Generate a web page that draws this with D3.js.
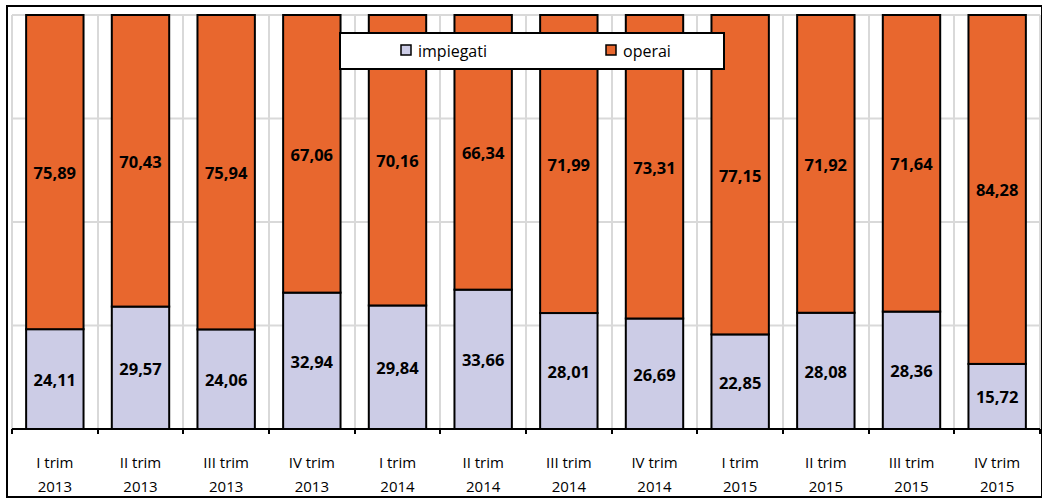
<!DOCTYPE html>
<html><head><meta charset="utf-8">
<script src="https://cdn.jsdelivr.net/npm/d3@7"></script>
<style>body{margin:0;background:#fff;}svg{display:block;}</style>
</head><body>
<svg id="c" width="1042" height="499"></svg>
<script>
const quarters = ["I trim","II trim","III trim","IV trim","I trim","II trim","III trim","IV trim","I trim","II trim","III trim","IV trim"];
const years = ["2013","2013","2013","2013","2014","2014","2014","2014","2015","2015","2015","2015"];
const impiegati = [24.11,29.57,24.06,32.94,29.84,33.66,28.01,26.69,22.85,28.08,28.36,15.72];
const operai = [75.89,70.43,75.94,67.06,70.16,66.34,71.99,73.31,77.15,71.92,71.64,84.28];
const seriesNames = ["impiegati","operai"];
const colors = ["#CCCCE6","#E8672E"];
const yTicks = [0,25,50,75,100];

const svg = d3.select("#c");
const W = 1042, H = 499;
const m = {left:12, right:2, top:15, bottom:70};
const x = d3.scaleBand().domain(d3.range(quarters.length)).range([m.left, W - m.right]).paddingInner(0.33).paddingOuter(0.165);
const xb = d3.scaleLinear().domain([0, quarters.length]).range([m.left, W - m.right]);
const y = d3.scaleLinear().domain([0,100]).range([H - m.bottom, m.top]);

// outer border
svg.append("rect").attr("x",7).attr("y",6).attr("width",1035).attr("height",491)
  .attr("fill","#fff").attr("stroke","#000").attr("stroke-width",2);

// gridlines
const g = svg.append("g");
g.selectAll("line.h").data(yTicks.slice(1)).join("line")
  .attr("x1", m.left).attr("x2", W - m.right).attr("y1", d=>y(d)).attr("y2", d=>y(d))
  .attr("stroke","#d9d9d9").attr("stroke-width",2);
g.selectAll("line.v").data(d3.range(quarters.length+1)).join("line")
  .attr("x1", d=>Math.round(xb(d))).attr("x2", d=>Math.round(xb(d))).attr("y1", y(0)).attr("y2", y(100))
  .attr("stroke","#d9d9d9").attr("stroke-width",2);

// stacked bars
const rows = quarters.map((q,i)=>({i, impiegati: impiegati[i], operai: operai[i]}));
const stack = d3.stack().keys(seriesNames)(rows);
const layers = svg.append("g").selectAll("g").data(stack).join("g").attr("fill",(d,k)=>colors[k]);
layers.selectAll("rect").data(d=>d).join("rect")
  .attr("x", d=>x(d.data.i)).attr("width", x.bandwidth())
  .attr("y", d=>y(d[1])).attr("height", d=>y(d[0]) - y(d[1]))
  .attr("stroke","#000").attr("stroke-width",2);

// value labels
const fmt = v => v.toFixed(2).replace(".", ",");
const lab = svg.append("g");
stack.forEach((layer,k)=>{
  lab.selectAll("text.l"+k).data(layer).join("text")
    .attr("x", d=>x(d.data.i) + x.bandwidth()/2)
    .attr("y", d=>(y(d[0])+y(d[1]))/2 + 7)
    .attr("text-anchor","middle")
    .attr("font-family","Open Sans, sans-serif").attr("font-weight","bold").attr("font-size",16.5)
    .attr("fill","#000")
    .text(d=>fmt(d.data[seriesNames[k]]));
});

// x axis
const ax = svg.append("g");
ax.append("line").attr("x1", m.left).attr("x2", W - m.right).attr("y1", y(0)).attr("y2", y(0))
  .attr("stroke","#000").attr("stroke-width",2);
ax.selectAll("line.t").data(d3.range(quarters.length+1)).join("line")
  .attr("x1", d=>Math.round(xb(d))).attr("x2", d=>Math.round(xb(d))).attr("y1", y(0)).attr("y2", y(0)+5)
  .attr("stroke","#000").attr("stroke-width",2);
ax.selectAll("text.q").data(quarters).join("text")
  .attr("x",(d,i)=>x(i)+x.bandwidth()/2).attr("y", 468).attr("text-anchor","middle")
  .attr("font-family","Open Sans, sans-serif").attr("font-size",15).attr("fill","#000").text(d=>d);
ax.selectAll("text.yr").data(years).join("text")
  .attr("x",(d,i)=>x(i)+x.bandwidth()/2).attr("y", 492).attr("text-anchor","middle")
  .attr("font-family","Open Sans, sans-serif").attr("font-size",15).attr("fill","#000").text(d=>d);

// legend
const lg = svg.append("g");
lg.append("rect").attr("x",340).attr("y",33).attr("width",384).attr("height",36)
  .attr("fill","#fff").attr("stroke","#000").attr("stroke-width",2);
const legX = [401, 606];
seriesNames.forEach((s,k)=>{
  lg.append("rect").attr("x",legX[k]).attr("y",45).attr("width",10).attr("height",10)
    .attr("fill",colors[k]).attr("stroke","#000").attr("stroke-width",1.5);
  lg.append("text").attr("x",legX[k]+17).attr("y",57)
    .attr("font-family","Open Sans, sans-serif").attr("font-size",16).attr("fill","#000").text(s);
});
</script>
</body></html>
